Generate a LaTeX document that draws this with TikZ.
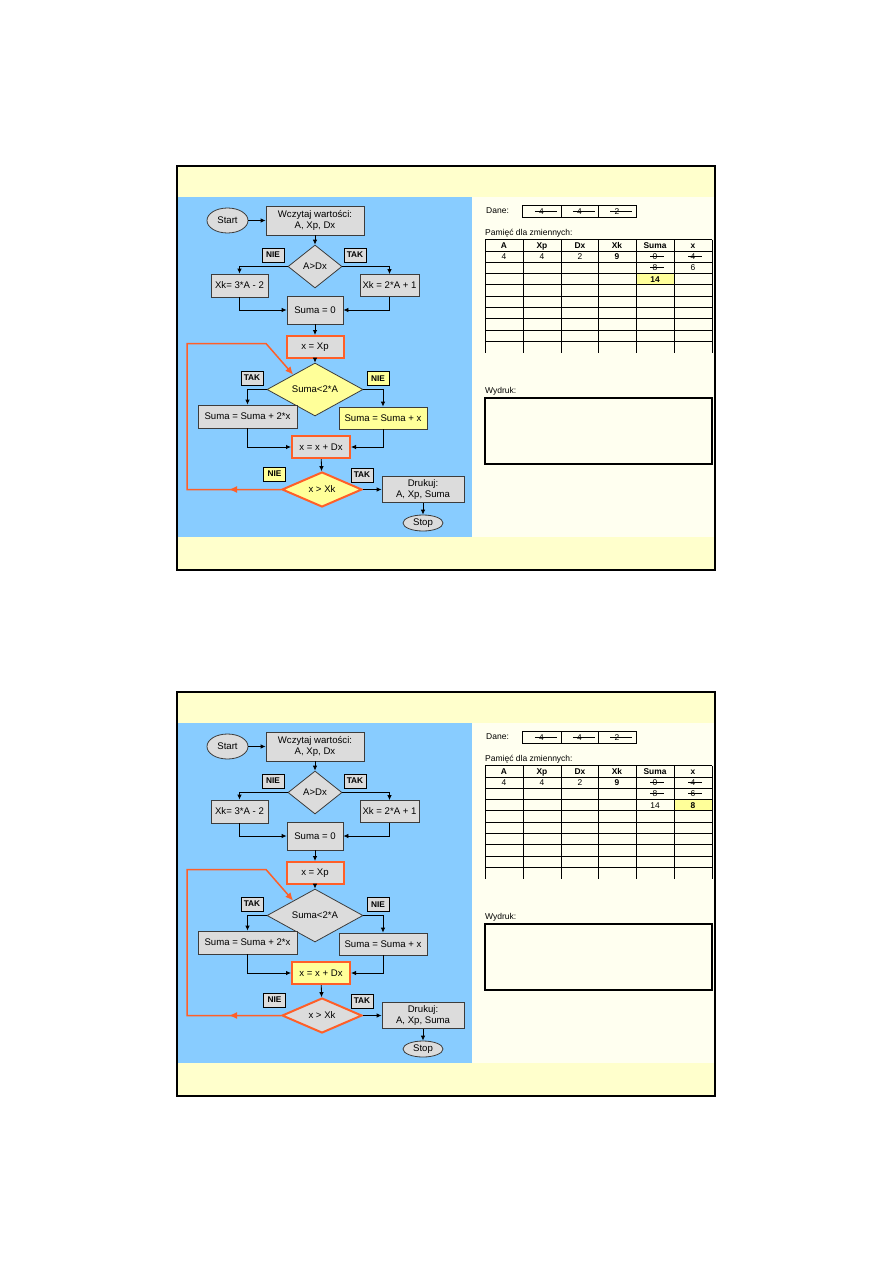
\documentclass[tikz,border=0pt]{standalone}
\usepackage{fontspec}
\setmainfont{Liberation Sans}
\usetikzlibrary{positioning}
\usetikzlibrary{calc}
\usetikzlibrary{arrows.meta}
\usetikzlibrary{decorations.markings}
\usetikzlibrary{shapes.geometric}
\definecolor{panelblue}{RGB}{136,204,255}
\definecolor{band}{RGB}{255,255,204}
\definecolor{paper}{RGB}{255,255,240}
\definecolor{boxgray}{RGB}{220,220,220}
\definecolor{boxyellow}{RGB}{255,255,153}
\definecolor{hot}{RGB}{255,95,40}
\definecolor{edgegray}{RGB}{60,60,60}

% value crossed out by a line
\newcommand{\crossed}[2][14pt]{\makebox[#1]{\rlap{\rule[2.6pt]{#1}{0.8pt}}\hfil#2\hfil}}

% slide background
\newcommand{\slideframe}{%
  \fill[band] (177,166) rectangle (715,570);
  \fill[panelblue] (178,197) rectangle (472,537);
  \fill[paper] (472,197) rectangle (715,537);
  \draw[line width=1.5pt] (177,166) rectangle (715,570);
}

% flowchart, #1 = name prefix
\newcommand{\flowchart}[1]{%
  \node (#1start) [term, minimum width=41pt, minimum height=25pt] at (227.5,220.5) {Start};
  \node (#1read) [proc, minimum width=98pt, minimum height=29pt] at (315,220.5) {Wczytaj wartości:\\A, Xp, Dx};
  \node (#1cmp) [cond, minimum width=54pt, minimum height=43pt] at (315,266.5) {A>Dx};
  \node (#1no1) [flag] at (273,255) {NIE};
  \node (#1yes1) [flag] at (355,255) {TAK};
  \node (#1xka) [proc, minimum width=57pt, minimum height=23pt] at (239.5,285.5) {Xk= 3*A - 2};
  \node (#1xkb) [proc, minimum width=59pt, minimum height=22pt] at (389.5,285.5) {Xk = 2*A + 1};
  \node (#1zero) [proc, minimum width=56pt, minimum height=28pt] at (315,310) {Suma = 0};
  \node (#1init) [proc, hotbox, minimum width=57pt, minimum height=22pt] at (315,347) {x = Xp};
  \node (#1sum) [cond, sumfill, minimum width=96pt, minimum height=37pt] at (315,389.5) {Suma<2*A};
  \node (#1yes2) [flag] at (252,378) {TAK};
  \node (#1no2) [flag, noflag] at (378,378.5) {NIE};
  \node (#1addxx) [proc, minimum width=99pt, minimum height=23pt] at (247.5,416.5) {Suma = Suma + 2*x};
  \node (#1addx) [proc, addfill, minimum width=88pt, minimum height=22pt] at (383,418) {Suma = Suma + x};
  \node (#1inc) [proc, incfill, hotbox, minimum width=58pt, minimum height=22pt] at (321,447) {x = x + Dx};
  \node (#1check) [cond, checkfill, hotbox, minimum width=80pt, minimum height=35pt] at (322,489.5) {x > Xk};
  \node (#1no3) [flag, noflag] at (274.5,474) {NIE};
  \node (#1yes3) [flag] at (362,475) {TAK};
  \node (#1print) [proc, minimum width=82pt, minimum height=26pt] at (423,489.5) {Drukuj:\\A, Xp, Suma};
  \node (#1stop) [term, minimum width=40pt, minimum height=16pt] at (423,523) {Stop};

  \draw[flow] (#1start) -- (#1read);
  \draw[flow] (#1read) -- (#1cmp);
  \draw[flow] (#1cmp.west) -| (#1xka);
  \draw[flow] (#1cmp.east) -| (#1xkb);
  \draw[flow] (#1xka) |- (#1zero);
  \draw[flow] (#1xkb) |- (#1zero);
  \draw[flow] (#1zero) -- (#1init);
  \draw[flow] (#1init) -- (#1sum);
  \draw[flow] (#1sum.west) -| (#1addxx);
  \draw[flow] (#1sum.east) -| (#1addx);
  \draw[flow] (#1addxx) |- (#1inc);
  \draw[flow] (#1addx) |- (#1inc);
  \draw[flow] (#1inc) -- (#1check);
  \draw[flow] (#1check) -- (#1print);
  \draw[flow] (#1print) -- (#1stop);

  % loop back
  \coordinate (#1back1) at (187,489.5);
  \coordinate (#1back2) at (187,343.5);
  \coordinate (#1back3) at (266,343.5);
  \draw[backline] (#1check.west) -- (#1back1) -- (#1back2) -- (#1back3) -- ($(#1sum.west)!0.55!(#1sum.north)$);
}

% memory table, #1 = name prefix
\newcommand{\memory}[1]{%
  \node (#1dane) [small, anchor=west] at (486,211) {Dane:};
  \node (#1given) [draw, line width=0.8pt, minimum width=114pt, minimum height=12pt] at (579,211) {};
  \draw[line width=0.8pt] (561,205) -- (561,217) (598,205) -- (598,217);
  \node (#1d1) [cell] at (541.5,211.5) {\crossed[22pt]{4}};
  \node (#1d2) [cell] at (579.5,211.5) {\crossed[22pt]{4}};
  \node (#1d3) [cell] at (617,211.5) {\crossed[22pt]{2}};
  \node (#1mem) [small, anchor=west] at (485,233.5) {Pamięć dla zmiennych:};
  \foreach \k in {0,...,9}
    \draw[line width=0.6pt] (485,{239.5+11.3*\k}) -- (712,{239.5+11.3*\k});
  \foreach \x in {485,523,561,598,636,674,712}
    \draw[line width=0.6pt] (\x,239.5) -- (\x,352.5);
  \node (#1hA) [cell] at (504,245.2) {\bfseries A};
  \node (#1hXp) [cell] at (542,245.2) {\bfseries Xp};
  \node (#1hDx) [cell] at (580,245.2) {\bfseries Dx};
  \node (#1hXk) [cell] at (617,245.2) {\bfseries Xk};
  \node (#1hSuma) [cell] at (655,245.2) {\bfseries Suma};
  \node (#1hx) [cell] at (693,245.2) {\bfseries x};
  \node (#1vA) [cell] at (504,256.5) {4};
  \node (#1vXp) [cell] at (542,256.5) {4};
  \node (#1vDx) [cell] at (580,256.5) {2};
  \node (#1vXk) [cell] at (617,256.5) {\bfseries 9};
  \node (#1sum1) [cell] at (655,256.5) {\crossed{0}};
  \node (#1x1) [cell] at (693,256.5) {\crossed{4}};
  \node (#1out) [small, anchor=west] at (485,391) {Wydruk:};
  \node (#1outbox) [draw, line width=1.5pt, minimum width=227pt, minimum height=66pt, anchor=north west] at (484,397) {};
}

\begin{document}
\begin{tikzpicture}[x=1pt, y=-1pt,
    every node/.style={align=center, inner sep=0pt, font=\fontsize{9.6}{11}\selectfont},
    proc/.style={draw=edgegray, line width=0.8pt, fill=boxgray},
    term/.style={ellipse, draw=edgegray, line width=0.8pt, fill=boxgray},
    cond/.style={diamond, draw=edgegray, line width=0.8pt, fill=boxgray},
    hotbox/.style={draw=hot, line width=2pt},
    flag/.style={draw=black, line width=0.8pt, fill=boxgray, minimum width=22pt, minimum height=14pt, font=\fontsize{8.3}{9}\selectfont\bfseries},
    flow/.style={draw=black, line width=0.8pt, -{Latex[length=5pt, width=4.5pt]}},
    backline/.style={draw=hot, color=hot, line width=1.5pt, -{Latex[length=8pt, width=7pt]},
      decoration={markings, mark=at position 52pt with {\arrow{Latex[length=8pt, width=7pt]}}},
      postaction={decorate}},
    small/.style={font=\fontsize{8.5}{9.5}\selectfont},
    cell/.style={font=\fontsize{8.4}{9}\selectfont, text height=6pt, text depth=0pt}]
  \fill[white] (0,0) rectangle (893,1263);
  \useasboundingbox (0,0) rectangle (893,1263);

  % first slide
  \begin{scope}[sumfill/.style={fill=boxyellow}, addfill/.style={fill=boxyellow},
      incfill/.style={fill=boxgray}, checkfill/.style={fill=boxyellow}, noflag/.style={fill=boxyellow}]
    \slideframe
    \fill[boxyellow] (636,273.4) rectangle (674,284.7);
    \memory{a}
    \node (asum2) [cell] at (655,267.8) {\crossed{8}};
    \node (ax2) [cell] at (693,267.8) {6};
    \node (asum3) [cell] at (655,279.1) {\bfseries 14};
    \flowchart{a}
  \end{scope}

  % second slide
  \begin{scope}[yshift=-526pt, sumfill/.style={}, addfill/.style={},
      incfill/.style={fill=boxyellow}, checkfill/.style={}, noflag/.style={}]
    \slideframe
    \fill[boxyellow] (674,273.4) rectangle (712,284.7);
    \memory{b}
    \node (bsum2) [cell] at (655,267.8) {\crossed{8}};
    \node (bx2) [cell] at (693,267.8) {\crossed{6}};
    \node (bsum3) [cell] at (655,279.1) {14};
    \node (bx3) [cell] at (693,279.1) {\bfseries 8};
    \flowchart{b}
  \end{scope}
\end{tikzpicture}
\end{document}
